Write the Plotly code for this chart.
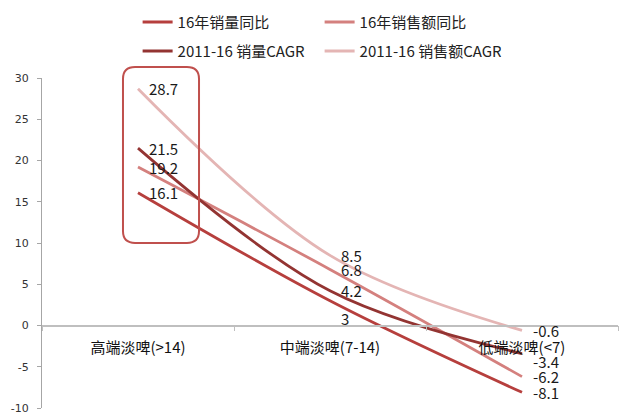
import plotly.graph_objects as go

# Beer segments by price band
categories = ["高端淡啤(>14)", "中端淡啤(7-14)", "低端淡啤(<7)"]

# Growth rates (%)
series_names = ["16年销量同比", "16年销售额同比", "2011-16 销量CAGR", "2011-16 销售额CAGR"]
vol_yoy_16 = [16.1, 3, -8.1]
sales_yoy_16 = [19.2, 6.8, -6.2]
vol_cagr = [21.5, 4.2, -3.4]
sales_cagr = [28.7, 8.5, -0.6]

y_ticks = [-10, -5, 0, 5, 10, 15, 20, 25, 30]

series_values = [vol_yoy_16, sales_yoy_16, vol_cagr, sales_cagr]
colors = ["#B63F3D", "#D4807E", "#933432", "#E4B5B4"]
legend_ids = ["legend", "legend", "legend2", "legend2"]

# vertical nudges (px) for labels that would otherwise collide
label_nudge = {(0, 1): -18, (2, 2): -8}

cjk = "Noto Sans CJK SC"

fig = go.Figure()
for name, vals, col, lg in zip(series_names, series_values, colors, legend_ids):
    fig.add_trace(go.Scatter(
        x=categories, y=vals, name=name, mode="lines",
        line=dict(color=col, width=2.8, shape="spline", smoothing=1.0),
        legend=lg, hoverinfo="skip",
    ))

annotations = []
for si, vals in enumerate(series_values):
    for ci, v in enumerate(vals):
        annotations.append(dict(
            x=categories[ci], y=v, xref="x", yref="y",
            text=f"{v:g}", showarrow=False, xanchor="left", yanchor="middle",
            xshift=9, yshift=label_nudge.get((si, ci), 0),
            font=dict(family=cjk, size=15, color="#1a1a1a"),
        ))

# rounded highlight box around the high-end segment
x0, x1, y0, y1 = 0.1406, 0.2726, 0.50, 1.033
rx, ry = 0.021, 0.036
box_path = (
    f"M {x0+rx},{y1} L {x1-rx},{y1} Q {x1},{y1} {x1},{y1-ry} "
    f"L {x1},{y0+ry} Q {x1},{y0} {x1-rx},{y0} "
    f"L {x0+rx},{y0} Q {x0},{y0} {x0},{y0+ry} "
    f"L {x0},{y1-ry} Q {x0},{y1} {x0+rx},{y1} Z"
)

legend_style = dict(
    orientation="h", x=0.166, xanchor="left", yanchor="middle",
    font=dict(family=cjk, size=15, color="#222"),
    itemwidth=30, entrywidth=137, entrywidthmode="pixels",
    bgcolor="rgba(0,0,0,0)",
)

fig.update_layout(
    width=619, height=416,
    margin=dict(l=42, r=1, t=78, b=6),
    paper_bgcolor="white", plot_bgcolor="white",
    showlegend=True,
    annotations=annotations,
    shapes=[dict(type="path", path=box_path, xref="paper", yref="paper",
                 line=dict(color="#C0504D", width=2), fillcolor="rgba(0,0,0,0)")],
    legend=dict(legend_style, y=1.169),
    legend2=dict(legend_style, y=1.081),
    xaxis=dict(
        type="category", categoryorder="array", categoryarray=categories,
        range=[-0.5, 2.5], anchor="free", position=0.25,
        showline=True, linecolor="#BFBFBF", linewidth=1.5,
        ticks="outside", tickson="boundaries", ticklen=5, tickcolor="#BFBFBF",
        showgrid=False, zeroline=False, ticklabelstandoff=9,
        tickfont=dict(family=cjk, size=15, color="#111"),
    ),
    yaxis=dict(
        range=[-10, 30], tickvals=y_ticks, ticktext=[str(t) for t in y_ticks],
        showline=True, linecolor="#A6A6A6", linewidth=1,
        ticks="outside", ticklen=4, tickcolor="#A6A6A6",
        showgrid=False, zeroline=False, ticklabelstandoff=6,
        ticklabeloverflow="allow",
        tickfont=dict(family="DejaVu Sans", size=11, color="#333"),
    ),
)

fig.write_html("out.html")
